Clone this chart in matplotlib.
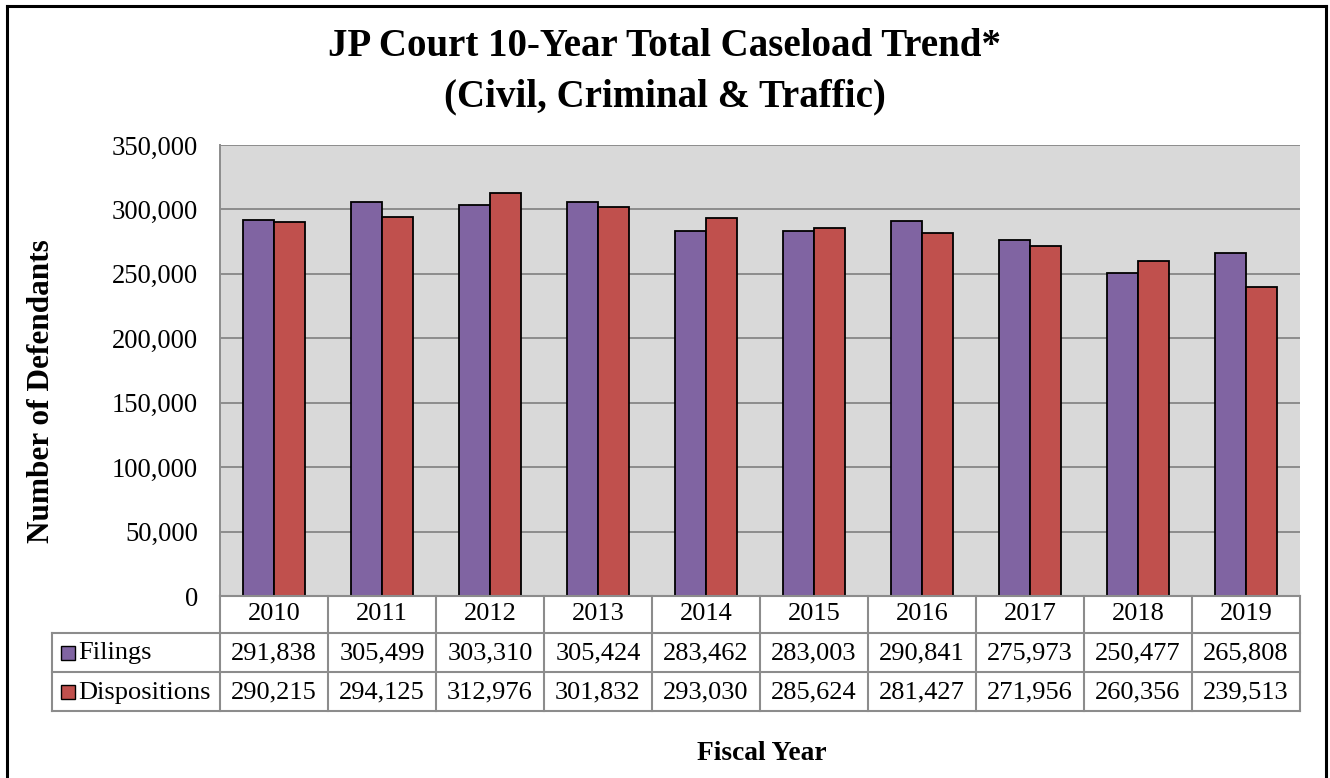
import matplotlib
matplotlib.use("Agg")
import matplotlib.pyplot as plt
from matplotlib.patches import Rectangle
from matplotlib.lines import Line2D
from matplotlib.ticker import FuncFormatter

# Caseload data by fiscal year
years = ["2010", "2011", "2012", "2013", "2014", "2015", "2016", "2017", "2018", "2019"]
filings = [291838, 305499, 303310, 305424, 283462, 283003, 290841, 275973, 250477, 265808]
dispositions = [290215, 294125, 312976, 301832, 293030, 285624, 281427, 271956, 260356, 239513]
series_names = ["Filings", "Dispositions"]
y_ticks = [0, 50000, 100000, 150000, 200000, 250000, 300000, 350000]

title_lines = ["JP Court 10-Year Total Caseload Trend*", "(Civil, Criminal & Traffic)"]
y_label = "Number of Defendants"
x_label = "Fiscal Year"

PURPLE = "#8064A2"
RED = "#C0504D"
PLOT_BG = "#D9D9D9"
GRID = "#8C8C8C"

plt.rcParams["font.family"] = ["Liberation Serif", "DejaVu Serif"]

W, H = 1330, 778
fig = plt.figure(figsize=(W / 100, H / 100), dpi=100)


def box(x0, y0, x1, y1):
    """Pixel box (top-left origin) -> figure-relative axes rectangle."""
    return [x0 / W, 1 - y1 / H, (x1 - x0) / W, (y1 - y0) / H]


# ---- bar chart ----
ax = fig.add_axes(box(220, 145, 1300, 596))
ax.set_facecolor(PLOT_BG)
n = len(years)
xs = list(range(n))
bw = 0.285
ax.bar([x - bw / 2 for x in xs], filings, width=bw, color=PURPLE,
       edgecolor="black", linewidth=1.3, zorder=3)
ax.bar([x + bw / 2 for x in xs], dispositions, width=bw, color=RED,
       edgecolor="black", linewidth=1.3, zorder=3)
ax.set_xlim(-0.5, n - 0.5)
ax.set_ylim(0, 350000)
ax.set_yticks(y_ticks)
ax.yaxis.set_major_formatter(FuncFormatter(lambda v, p: f"{int(v):,}"))
ax.set_xticks([])
ax.tick_params(axis="y", length=0, pad=16, labelsize=19.2)
ax.grid(axis="y", color=GRID, linewidth=1.4, zorder=1)
for side in ("top", "right", "bottom"):
    ax.spines[side].set_visible(False)
ax.spines["left"].set_color(GRID)
ax.spines["left"].set_linewidth(1.4)

# ---- data table below the plot ----
row_px = [0, 37, 76, 115]      # row boundaries in pixels below the plot
col_px = 108                   # width of one year column
legend_col = 168               # width of the series-name column
tab = fig.add_axes(box(52, 596, 1300, 711))
x_left = -0.5 - legend_col / col_px
tab.set_xlim(x_left, n - 0.5)
tab.set_ylim(row_px[-1], 0)
tab.axis("off")

line_kw = dict(color=GRID, linewidth=1.5, solid_capstyle="projecting", clip_on=False)
# horizontal rules
tab.add_line(Line2D([-0.5, n - 0.5], [row_px[0], row_px[0]], **line_kw))
for r in row_px[1:]:
    tab.add_line(Line2D([x_left, n - 0.5], [r, r], **line_kw))
# vertical rules
for i in range(n + 1):
    tab.add_line(Line2D([i - 0.5, i - 0.5], [row_px[0], row_px[-1]], **line_kw))
tab.add_line(Line2D([x_left, x_left], [row_px[1], row_px[-1]], **line_kw))

fs = 19
for i, yr in enumerate(years):
    tab.text(i, (row_px[0] + row_px[1]) / 2, yr, ha="center", va="center", fontsize=fs)
for r, (vals, name, col) in enumerate(zip([filings, dispositions], series_names, [PURPLE, RED])):
    yc = (row_px[r + 1] + row_px[r + 2]) / 2
    for i, v in enumerate(vals):
        tab.text(i, yc + 1, f"{v:,}", ha="center", va="center", fontsize=fs)
    sq = 14
    sx = x_left + 9 / col_px
    tab.add_patch(Rectangle((sx, yc - sq / 2), sq / col_px, sq, facecolor=col,
                            edgecolor="black", linewidth=1.0, clip_on=False))
    tab.text(x_left + 26 / col_px, yc + 1, name, ha="left", va="center", fontsize=fs)

# ---- titles and axis labels ----
fig.text(665 / W, 1 - 47 / H, title_lines[0], ha="center", va="center",
         fontsize=28, fontweight="bold")
fig.text(665 / W, 1 - 97 / H, title_lines[1], ha="center", va="center",
         fontsize=28, fontweight="bold")
fig.text(42 / W, 1 - 391 / H, y_label, rotation=90, ha="center", va="center",
         fontsize=22.5, fontweight="bold")
fig.text(762 / W, 1 - 753 / H, x_label, ha="center", va="center",
         fontsize=19.8, fontweight="bold")

# ---- outer chart frame (open at the bottom edge) ----
frame_kw = dict(color="black", linewidth=2.2, transform=fig.transFigure,
                solid_capstyle="projecting")
fx0, fx1, fy0 = 7 / W, 1326 / W, 1 - 6 / H
fig.add_artist(Line2D([fx0, fx1], [fy0, fy0], **frame_kw))
fig.add_artist(Line2D([fx0, fx0], [fy0, -0.01], **frame_kw))
fig.add_artist(Line2D([fx1, fx1], [fy0, -0.01], **frame_kw))

fig.savefig("out.png", dpi=100, facecolor="white")
